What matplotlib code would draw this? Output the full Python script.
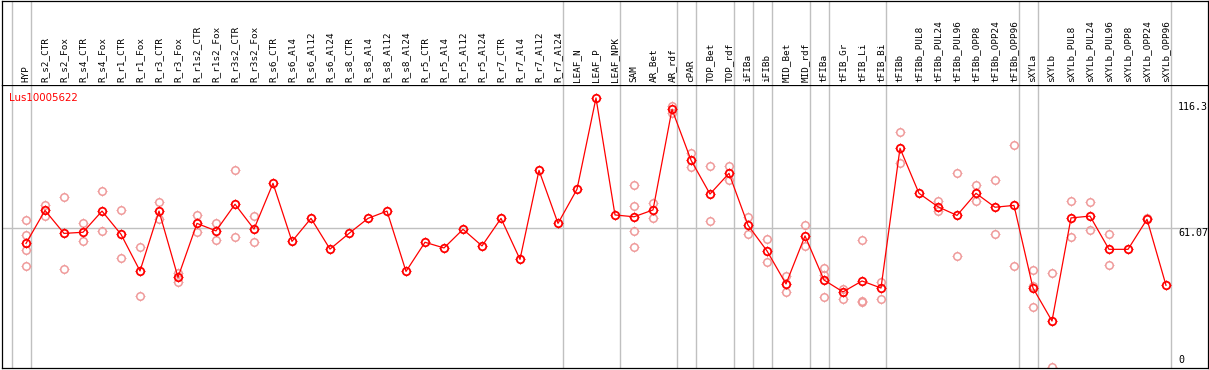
import matplotlib
matplotlib.use("Agg")
import matplotlib.pyplot as plt
import numpy as np
from matplotlib.path import Path

labels = ["HYP", "R_s2_CTR", "R_s2_Fox", "R_s4_CTR", "R_s4_Fox", "R_r1_CTR", "R_r1_Fox",
          "R_r3_CTR", "R_r3_Fox", "R_r1s2_CTR", "R_r1s2_Fox", "R_r3s2_CTR", "R_r3s2_Fox",
          "R_s6_CTR", "R_s6_Al4", "R_s6_Al12", "R_s6_Al24", "R_s8_CTR", "R_s8_Al4",
          "R_s8_Al12", "R_s8_Al24", "R_r5_CTR", "R_r5_Al4", "R_r5_Al12", "R_r5_Al24",
          "R_r7_CTR", "R_r7_Al4", "R_r7_Al12", "R_r7_Al24", "LEAF_N", "LEAF_P", "LEAF_NPK",
          "SAM", "AR_Bet", "AR_rdf", "cPAR", "TOP_Bet", "TOP_rdf", "iFIBa", "iFIBb",
          "MID_Bet", "MID_rdf", "tFIBa", "tFIB_Gr", "tFIB_Li", "tFIB_Bi", "tFIBb",
          "tFIBb_PUL8", "tFIBb_PUL24", "tFIBb_PUL96", "tFIBb_OPP8", "tFIBb_OPP24",
          "tFIBb_OPP96", "sXYLa", "sXYLb", "sXYLb_PUL8", "sXYLb_PUL24", "sXYLb_PUL96",
          "sXYLb_OPP8", "sXYLb_OPP24", "sXYLb_OPP96"]

means = [54.3, 68.8, 58.7, 59.2, 68.5, 58.3, 42.2, 68.5, 39.4, 63.1, 59.8, 71.5, 60.6,
         80.7, 55.2, 65.3, 51.8, 58.7, 65.3, 68.5, 42.0, 54.8, 52.3, 60.5, 53.2, 65.3,
         47.3, 86.4, 63.1, 78.1, 118.2, 66.8, 66.0, 69.0, 113.2, 90.9, 76.0, 85.1, 62.3,
         51.0, 36.5, 57.6, 38.2, 33.0, 37.8, 34.7, 96.1, 76.3, 70.4, 66.6, 76.3, 70.2,
         71.0, 34.7, 20.2, 65.5, 66.3, 51.7, 51.7, 64.9, 35.9]

replicates = [
    [64.6, 57.9, 51.3, 44.4], [71.2, 66.3], [74.6, 42.9], [63.1, 55.4], [77.2, 59.6],
    [68.8, 47.8], [52.6, 31.1], [72.4, 64.9], [41.2, 37.3], [66.8, 59.5], [63.3, 55.7],
    [86.4, 57.1], [66.2, 54.8],
    [], [], [], [], [], [], [], [], [], [], [], [], [], [], [], [], [], [], [],
    [79.8, 70.7, 59.6, 52.6], [72.1, 65.3], [114.8, 111.5], [94.0, 87.7], [88.2, 64.0],
    [88.2, 82.3], [65.9, 58.3], [56.1, 46.1], [40.0, 32.8], [62.4, 53.2],
    [43.5, 40.6, 30.6], [34.4, 29.7], [55.7, 29.0, 28.4], [37.2, 29.7], [103.1, 89.5],
    [], [72.9, 68.7], [85.1, 48.6], [79.8, 72.8], [82.2, 58.4], [97.4, 44.4],
    [42.5, 35.7, 26.2], [41.3, 0.0], [72.8, 57.3], [72.4, 60.1], [58.4, 44.7],
    [], [65.5], []]

# index of last sample in each group (group separators drawn after these)
group_ends = [-1, 0, 28, 31, 34, 35, 37, 38, 39, 41, 42, 45, 52, 53, 60]

gene = "Lus10005622"
mean_value = 61.07
max_label = 116.3

W, H = 1209, 370
fig = plt.figure(figsize=(W / 100, H / 100), dpi=100)

left = 1.5 / W
right = 1207.5 / W
ax_bottom = (H - 368) / H
ax_top = (H - 85) / H
ax = fig.add_axes([left, ax_bottom, right - left, ax_top - ax_bottom])
hax = fig.add_axes([left, ax_top, right - left, (H - 0.5) / H - ax_top], sharex=ax)

x = np.arange(len(labels))
# pixel x = 26 + 19*i
ax.set_xlim((1.5 - 26) / 19, (1207.5 - 26) / 19)
# pixel y = 367 - 2.276*v
ax.set_ylim((367 - 368) / 2.276, (367 - 85) / 2.276)
hax.set_ylim(0, 1)

for a in (ax, hax):
    a.set_xticks([])
    a.set_yticks([])
    for s in a.spines.values():
        s.set_linewidth(0.9)
        s.set_color("black")
hax.spines["bottom"].set_visible(False)

# tick-only marker (4 short outward spikes around the circle)
ticks_v = []
ticks_c = []
for dx, dy in [(1, 0), (-1, 0), (0, 1), (0, -1)]:
    ticks_v += [(dx * 1.0, dy * 1.0), (dx * 1.3, dy * 1.3)]
    ticks_c += [Path.MOVETO, Path.LINETO]
tick_path = Path(ticks_v, ticks_c)
circ_ms = 5.4
tick_ms = circ_ms * 1.3

grey = "#c0c0c0"
for g in group_ends:
    ax.axvline(g + 0.25, color=grey, lw=1.0, zorder=0)
    hax.axvline(g + 0.25, color=grey, lw=1.0, zorder=0)
ax.axhline(mean_value, color=grey, lw=1.0, zorder=0)

pink = "#ef9a9a"
rx, ry = [], []
for i, reps in enumerate(replicates):
    for r in reps:
        rx.append(i)
        ry.append(r)
ax.plot(rx, ry, linestyle="none", marker="o", markersize=circ_ms,
        markerfacecolor="none", markeredgecolor=pink, markeredgewidth=1.1, zorder=2)
ax.plot(rx, ry, linestyle="none", marker=tick_path, markersize=tick_ms,
        markerfacecolor="none", markeredgecolor=pink, markeredgewidth=0.7, zorder=2)

ax.plot(x, means, color="red", lw=0.9, zorder=3)
ax.plot(x, means, linestyle="none", marker="o", markersize=circ_ms,
        markerfacecolor="none", markeredgecolor="red", markeredgewidth=1.3, zorder=4)
ax.plot(x, means, linestyle="none", marker=tick_path, markersize=tick_ms,
        markerfacecolor="none", markeredgecolor="red", markeredgewidth=0.7, zorder=4)

for i, lab in enumerate(labels):
    hax.text(i, 3 / 85, lab, rotation=90, ha="center", va="bottom",
             fontsize=6.7, family="DejaVu Sans Mono", color="black")

ax.text(0.0062, 1 - 8 / 283, gene, transform=ax.transAxes, ha="left", va="top",
        fontsize=7.4, color="red", family="DejaVu Sans")

xr = (1178 - 26) / 19
ax.text(xr, max_label, f"{max_label:g}", ha="left", va="top", fontsize=7.2,
        family="DejaVu Sans Mono", color="black")
ax.text(xr, mean_value, f"{mean_value:.2f}", ha="left", va="top", fontsize=7.2,
        family="DejaVu Sans Mono", color="black")
ax.text(xr, 0.8, "0", ha="left", va="bottom", fontsize=7.2,
        family="DejaVu Sans Mono", color="black")

fig.savefig("out.png", dpi=100)
